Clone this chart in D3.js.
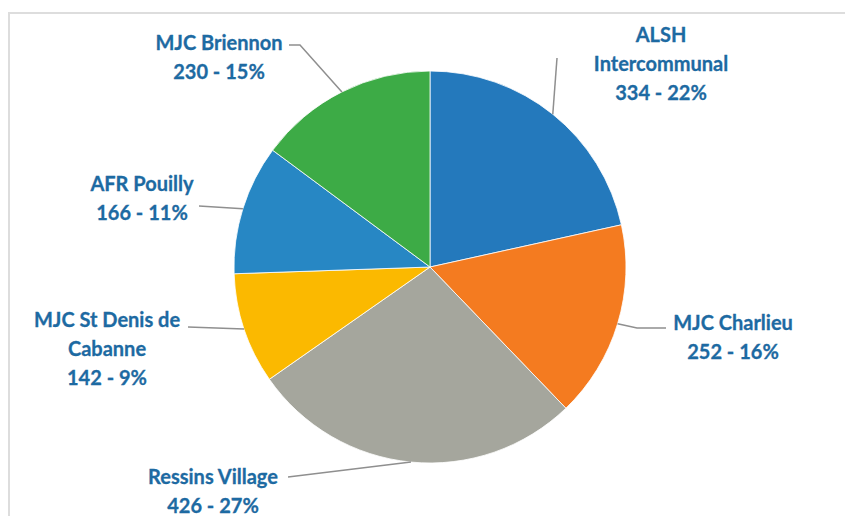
<!DOCTYPE html>
<html>
<head>
<meta charset="utf-8">
<script src="https://cdn.jsdelivr.net/npm/d3@7"></script>
<style>
  html, body { margin: 0; padding: 0; background: #ffffff; }
  svg { display: block; }
  .lbl { font-family: Lato, "Open Sans", sans-serif; font-weight: 700; font-size: 20px; fill: #1d6aa2; stroke: #1d6aa2; stroke-width: 0.3px; }
</style>
</head>
<body>
<svg id="chart" width="845" height="516"></svg>
<script>
// ---- Data ----
const categories = ["ALSH Intercommunal", "MJC Charlieu", "Ressins Village", "MJC St Denis de Cabanne", "AFR Pouilly", "MJC Briennon"];
const values = [334, 252, 426, 142, 166, 230];
const colors = ["#2479bc", "#f47b20", "#a5a69d", "#fbb900", "#2787c4", "#3dab46"];

// ---- Layout (positions / styles only) ----
const W = 845, H = 516;
const cx = 430, cy = 267, R = 196;
// label line wrapping, anchor (center x, first baseline y), leader path elbow points
const labelLayout = [
  { lines: ["ALSH", "Intercommunal"], x: 661, y: 42, leader: [[557, 58]] },
  { lines: ["MJC Charlieu"], x: 733, y: 330, leader: [[637, 328], [666, 328]] },
  { lines: ["Ressins Village"], x: 213, y: 484, leader: [[288, 477]] },
  { lines: ["MJC St Denis de", "Cabanne"], x: 107, y: 327, leader: [[188, 327]] },
  { lines: ["AFR Pouilly"], x: 142, y: 191, leader: [[199, 206]] },
  { lines: ["MJC Briennon"], x: 219, y: 50, leader: [[300, 45], [289, 45]] }
];
const lineGap = 29;

const svg = d3.select("#chart");
svg.append("rect").attr("width", W).attr("height", H).attr("fill", "#ffffff");
// frame
svg.append("path")
  .attr("d", `M9,${H} L9,13 L${W},13`)
  .attr("fill", "none").attr("stroke", "#dddddd").attr("stroke-width", 2);

const total = d3.sum(values);
const pie = d3.pie().sort(null).value(d => d)(values);
const arc = d3.arc().innerRadius(0).outerRadius(R);

const g = svg.append("g").attr("transform", `translate(${cx},${cy})`);
g.selectAll("path.slice")
  .data(pie)
  .join("path")
  .attr("class", "slice")
  .attr("d", arc)
  .attr("fill", (d, i) => colors[i])
  .attr("stroke", "#ffffff")
  .attr("stroke-width", 0.8);

// leader lines
const line = d3.line();
pie.forEach((d, i) => {
  const mid = (d.startAngle + d.endAngle) / 2;
  const p0 = [cx + R * Math.sin(mid), cy - R * Math.cos(mid)];
  const pts = [p0].concat(labelLayout[i].leader);
  svg.append("path")
    .attr("d", line(pts))
    .attr("fill", "none")
    .attr("stroke", "#8f8f8f")
    .attr("stroke-width", 1.5);
});

// labels
pie.forEach((d, i) => {
  const L = labelLayout[i];
  const pct = Math.round(values[i] / total * 100);
  const rows = L.lines.concat([`${values[i]} - ${pct}%`]);
  const t = svg.append("text").attr("class", "lbl").attr("text-anchor", "middle");
  rows.forEach((r, k) => {
    t.append("tspan").attr("x", L.x).attr("y", L.y + k * lineGap).text(r);
  });
});
</script>
</body>
</html>
